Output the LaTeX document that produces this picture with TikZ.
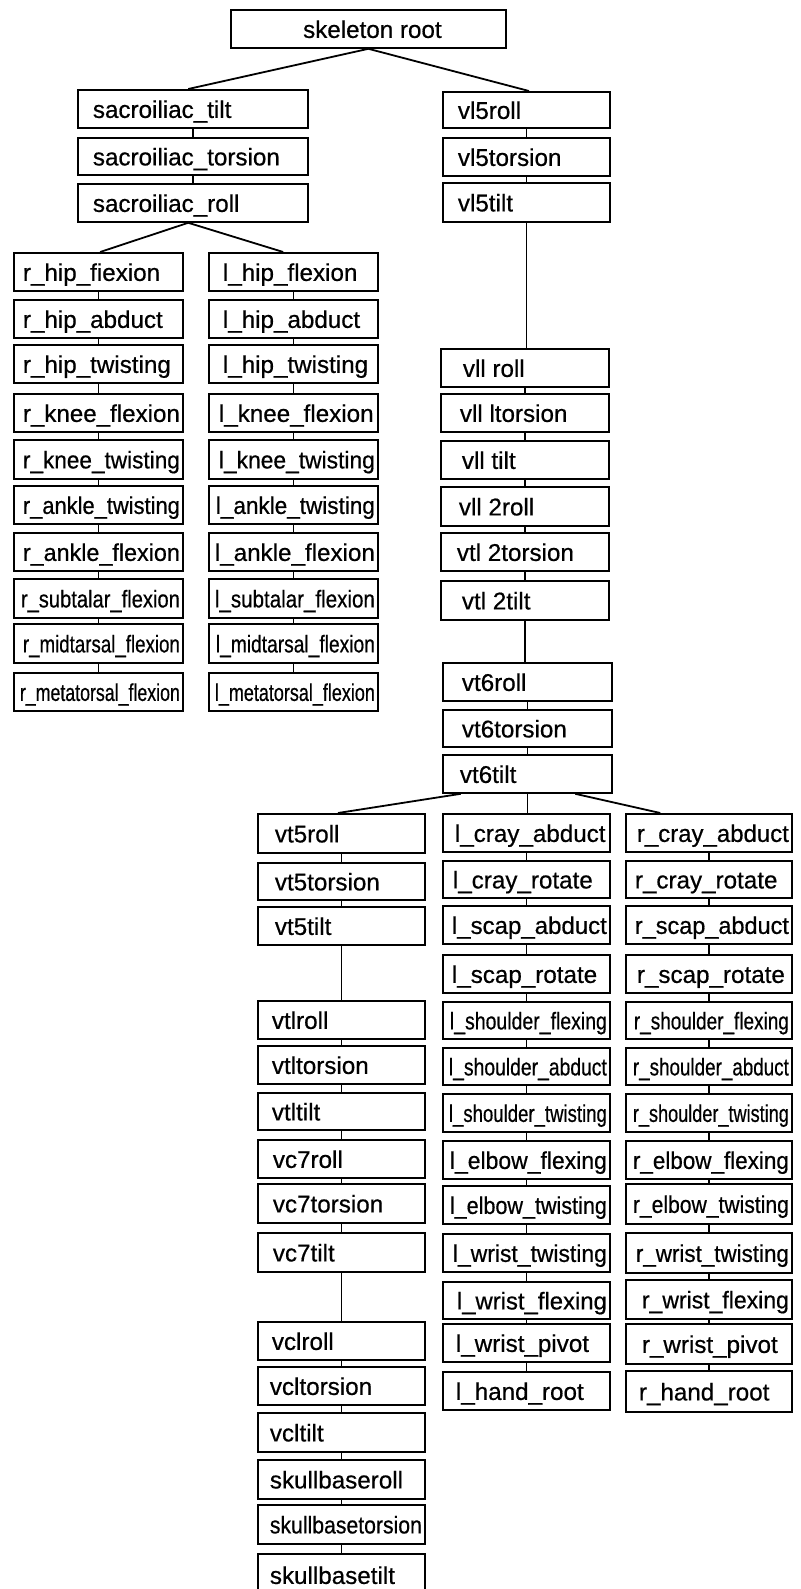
\documentclass[tikz,border=0pt]{standalone}
\usepackage{fontspec}
\setmainfont{Liberation Sans}
\newfontfamily\scanfont{Liberation Sans}[FakeBold=0.6]
\usetikzlibrary{calc}
\newsavebox\fitbox
\newcommand\fitlabel[2]{\sbox\fitbox{#2}\ifdim\wd\fitbox>#1\relax\pgfmathsetmacro\fitf{(#1)/(\the\wd\fitbox)}\scalebox{\fitf}[1]{\usebox\fitbox}\else\usebox\fitbox\fi}
\newcommand\jbox[7]{\pgfmathsetmacro\bw{#4-#2}\pgfmathsetmacro\bh{#5-#3}\pgfmathsetmacro\tw{#4-#2-#6-3}\node[jb,minimum width=\bw pt,minimum height=\bh pt,anchor=north west] (#1) at (#2pt,-#3pt) {\makebox[\bw pt][l]{\hspace*{#6pt}\fitlabel{\tw pt}{#7}}};}
\tikzset{
  jb/.style={draw, line width=1.8pt, inner sep=0pt, text height=22pt, text depth=4pt, font=\scanfont\fontsize{24.2}{28}\selectfont},
  con/.style={line width=1.8pt}
}
\begin{document}
\begin{tikzpicture}
\fill[white] (0,0) rectangle (800pt,-1589pt);
\useasboundingbox (0,0) rectangle (800pt,-1589pt);
% root
\node[jb,minimum width=275pt,minimum height=38pt,anchor=north west] (root) at (230pt,-9pt) {\makebox[275pt][c]{\hspace*{8pt}skeleton root}};
% sacroiliac
\jbox{st}{77}{89}{307}{127}{15}{sacroiliac\_tilt}
\jbox{sto}{77}{137}{307}{174}{15}{sacroiliac\_torsion}
\jbox{sr}{77}{183}{307}{221}{15}{sacroiliac\_roll}
% vl5
\jbox{v5r}{442}{91}{609}{127}{15}{vl5roll}
\jbox{v5to}{442}{137}{609}{175}{15}{vl5torsion}
\jbox{v5t}{442}{182}{609}{221}{15}{vl5tilt}
% right leg
\jbox{rh1}{13}{252}{182}{290}{9}{r\_hip\_fiexion}
\jbox{rh2}{13}{299}{182}{337}{9}{r\_hip\_abduct}
\jbox{rh3}{13}{344}{182}{382}{9}{r\_hip\_twisting}
\jbox{rh4}{13}{393}{182}{431}{9}{r\_knee\_flexion}
\jbox{rh5}{13}{439}{182}{478}{9}{r\_knee\_twisting}
\jbox{rh6}{13}{485}{182}{523}{9}{r\_ankle\_twisting}
\jbox{rh7}{13}{532}{182}{570}{9}{r\_ankle\_flexion}
\jbox{rh8}{13}{578}{182}{617}{7}{r\_subtalar\_flexion}
\jbox{rh9}{13}{623}{182}{662}{9}{r\_midtarsal\_flexion}
\jbox{rh10}{13}{672}{182}{710}{6}{r\_metatorsal\_flexion}
% left leg
\jbox{lh1}{208}{252}{377}{290}{14}{l\_hip\_flexion}
\jbox{lh2}{208}{299}{377}{337}{14}{l\_hip\_abduct}
\jbox{lh3}{208}{344}{377}{382}{14}{l\_hip\_twisting}
\jbox{lh4}{208}{393}{377}{431}{10}{l\_knee\_flexion}
\jbox{lh5}{208}{439}{377}{478}{10}{l\_knee\_twisting}
\jbox{lh6}{208}{485}{377}{523}{7}{l\_ankle\_twisting}
\jbox{lh7}{208}{532}{377}{570}{6}{l\_ankle\_flexion}
\jbox{lh8}{208}{578}{377}{617}{6}{l\_subtalar\_flexion}
\jbox{lh9}{208}{623}{377}{662}{7}{l\_midtarsal\_flexion}
\jbox{lh10}{208}{672}{377}{710}{6}{l\_metatorsal\_flexion}
% vll column
\jbox{v1}{440}{348}{608}{386}{22}{vll roll}
\jbox{v2}{440}{393}{608}{431}{19}{vll ltorsion}
\jbox{v3}{440}{440}{608}{478}{21}{vll tilt}
\jbox{v4}{440}{486}{608}{525}{18}{vll 2roll}
\jbox{v5}{440}{532}{608}{570}{16}{vtl 2torsion}
\jbox{v6}{440}{580}{608}{619}{21}{vtl 2tilt}
% vt6
\jbox{t6r}{442}{662}{611}{700}{19}{vt6roll}
\jbox{t6to}{442}{709}{611}{746}{19}{vt6torsion}
\jbox{t6t}{442}{754}{611}{792}{17}{vt6tilt}
% neck column
\jbox{c1}{257}{813}{424}{852}{17}{vt5roll}
\jbox{c2}{257}{862}{424}{899}{17}{vt5torsion}
\jbox{c3}{257}{906}{424}{944}{17}{vt5tilt}
\jbox{c4}{257}{1000}{424}{1038}{14}{vtlroll}
\jbox{c5}{257}{1045}{424}{1083}{14}{vtltorsion}
\jbox{c6}{257}{1092}{424}{1129}{14}{vtltilt}
\jbox{c7}{257}{1139}{424}{1177}{15}{vc7roll}
\jbox{c8}{257}{1183}{424}{1222}{15}{vc7torsion}
\jbox{c9}{257}{1232}{424}{1271}{15}{vc7tilt}
\jbox{c10}{257}{1321}{424}{1359}{14}{vclroll}
\jbox{c11}{257}{1366}{424}{1404}{12}{vcltorsion}
\jbox{c12}{257}{1412}{424}{1451}{12}{vcltilt}
\jbox{c13}{257}{1459}{424}{1498}{12}{skullbaseroll}
\jbox{c14}{257}{1504}{424}{1543}{12}{skullbasetorsion}
\jbox{c15}{257}{1553}{424}{1595}{12}{skullbasetilt}
% left arm
\jbox{la1}{442}{813}{609}{851}{12}{l\_cray\_abduct}
\jbox{la2}{442}{860}{609}{897}{10}{l\_cray\_rotate}
\jbox{la3}{442}{905}{609}{943}{9}{l\_scap\_abduct}
\jbox{la4}{442}{954}{609}{992}{9}{l\_scap\_rotate}
\jbox{la5}{442}{1001}{609}{1038}{7}{l\_shoulder\_flexing}
\jbox{la6}{442}{1047}{609}{1084}{6}{l\_shoulder\_abduct}
\jbox{la7}{442}{1093}{609}{1131}{6}{l\_shoulder\_twisting}
\jbox{la8}{442}{1140}{609}{1178}{7}{l\_elbow\_flexing}
\jbox{la9}{442}{1185}{609}{1223}{7}{l\_elbow\_twisting}
\jbox{la10}{442}{1233}{609}{1271}{10}{l\_wrist\_twisting}
\jbox{la11}{442}{1281}{609}{1318}{14}{l\_wrist\_flexing}
\jbox{la12}{442}{1323}{609}{1361}{13}{l\_wrist\_pivot}
\jbox{la13}{442}{1371}{609}{1409}{13}{l\_hand\_root}
% right arm
\jbox{ra1}{625}{813}{791}{851}{11}{r\_cray\_abduct}
\jbox{ra2}{625}{860}{791}{897}{9}{r\_cray\_rotate}
\jbox{ra3}{625}{905}{791}{943}{9}{r\_scap\_abduct}
\jbox{ra4}{625}{954}{791}{992}{11}{r\_scap\_rotate}
\jbox{ra5}{625}{1001}{791}{1038}{8}{r\_shoulder\_flexing}
\jbox{ra6}{625}{1047}{791}{1084}{7}{r\_shoulder\_abduct}
\jbox{ra7}{625}{1093}{791}{1131}{7}{r\_shoulder\_twisting}
\jbox{ra8}{625}{1140}{791}{1178}{7}{r\_elbow\_flexing}
\jbox{ra9}{625}{1183}{791}{1223}{7}{r\_elbow\_twisting}
\jbox{ra10}{625}{1232}{791}{1272}{10}{r\_wrist\_twisting}
\jbox{ra11}{625}{1279}{791}{1318}{16}{r\_wrist\_flexing}
\jbox{ra12}{625}{1323}{791}{1363}{16}{r\_wrist\_pivot}
\jbox{ra13}{625}{1370}{791}{1411}{13}{r\_hand\_root}
% fan connectors
\draw[con] (root.south) -- ($(st.north west)!0.48!(st.north east)$);
\draw[con] (root.south) -- ($(v5r.north west)!0.515!(v5r.north east)$);
\coordinate (srb) at ($(sr.south west)!0.48!(sr.south east)$);
\draw[con] (srb) -- ($(rh1.north west)!0.51!(rh1.north east)$);
\draw[con] (srb) -- ($(lh1.north west)!0.44!(lh1.north east)$);
\draw[con] ($(t6t.south west)!0.11!(t6t.south east)$) -- ($(c1.north west)!0.48!(c1.north east)$);
\draw[con] (t6t.south) -- (t6t.south |- la1.north);
\draw[con] ($(t6t.south west)!0.78!(t6t.south east)$) -- ($(ra1.north west)!0.21!(ra1.north east)$);
% chains
\foreach \a/\b in {st/sto,sto/sr,v5r/v5to,v5to/v5t,v5t/v1,v1/v2,v2/v3,v3/v4,v4/v5,v5/v6,v6/t6r,t6r/t6to,t6to/t6t,
  rh1/rh2,rh2/rh3,rh3/rh4,rh4/rh5,rh5/rh6,rh6/rh7,rh7/rh8,rh8/rh9,rh9/rh10,
  lh1/lh2,lh2/lh3,lh3/lh4,lh4/lh5,lh5/lh6,lh6/lh7,lh7/lh8,lh8/lh9,lh9/lh10,
  c1/c2,c2/c3,c3/c4,c4/c5,c5/c6,c6/c7,c7/c8,c8/c9,c9/c10,c10/c11,c11/c12,c12/c13,c13/c14,c14/c15,
  la1/la2,la2/la3,la3/la4,la4/la5,la5/la6,la6/la7,la7/la8,la8/la9,la9/la10,la10/la11,la11/la12,la12/la13,
  ra1/ra2,ra2/ra3,ra3/ra4,ra4/ra5,ra5/ra6,ra6/ra7,ra7/ra8,ra8/ra9,ra9/ra10,ra10/ra11,ra11/ra12,ra12/ra13}
  \draw[con] (\a.south) -- (\a.south |- \b.north);
\end{tikzpicture}
\end{document}
